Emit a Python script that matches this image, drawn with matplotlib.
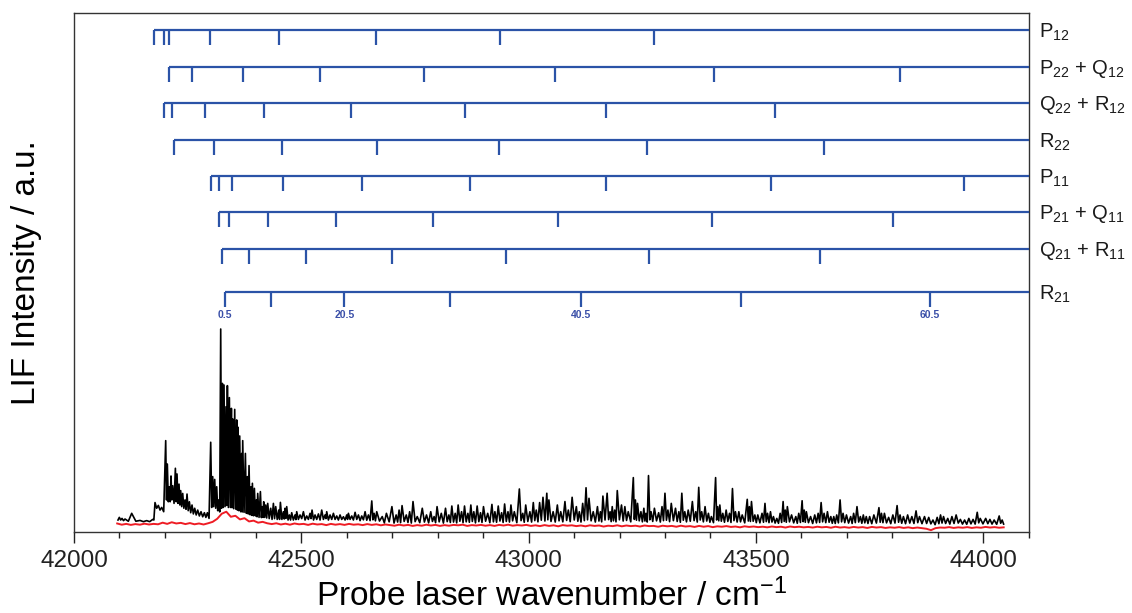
import numpy as np
import matplotlib
matplotlib.use("Agg")
import matplotlib.pyplot as plt
from matplotlib.ticker import MultipleLocator

plt.rcParams["font.family"] = ["Liberation Sans", "DejaVu Sans"]
plt.rcParams["mathtext.fontset"] = "custom"
plt.rcParams["mathtext.rm"] = "Liberation Sans"
plt.rcParams["mathtext.it"] = "Liberation Sans:italic"
plt.rcParams["mathtext.bf"] = "Liberation Sans:bold"

# ---------------------------------------------------------------- data
X_MIN, X_MAX = 42000, 44100
Y_MAX = 255.7

# LIF spectrum (black): line positions / cm-1, peak intensities and the
# floor level reached after each line (first entry is the level before the
# first line).
line_cm = [
    42099.7, 42105.6, 42112.2, 42126.9, 42145.2, 42159.9, 42173.1, 42178.2, 42185.5, 42192.9,
    42201.7, 42205.3, 42209.7, 42213.4, 42217.1, 42223.0, 42226.6, 42231.0, 42234.7, 42239.1,
    42244.2, 42248.6, 42253.8, 42259.6, 42265.5, 42272.1, 42279.4, 42286.8, 42293.4, 42300.7,
    42305.1, 42309.5, 42313.9, 42318.3, 42322.7, 42326.4, 42330.0, 42334.4, 42337.4, 42341.8,
    42346.2, 42349.1, 42353.5, 42357.9, 42360.8, 42364.5, 42368.9, 42371.1, 42377.0, 42381.4,
    42385.0, 42389.4, 42392.4, 42396.8, 42401.2, 42404.1, 42410.0, 42414.4, 42417.3, 42421.7,
    42426.1, 42432.7, 42438.6, 42443.7, 42450.3, 42454.0, 42460.6, 42464.2, 42467.9, 42473.8,
    42478.9, 42486.2, 42489.9, 42497.2, 42504.6, 42511.9, 42519.2, 42523.6, 42530.2, 42537.6,
    42544.9, 42552.3, 42555.9, 42563.2, 42570.6, 42577.9, 42585.2, 42592.6, 42599.9, 42603.6,
    42610.9, 42618.3, 42625.6, 42632.9, 42640.3, 42647.6, 42655.0, 42660.1, 42665.9,
    42678.0, 42687.2, 42699.3, 42708.6, 42715.1, 42721.6, 42730.9, 42738.3, 42745.7, 42755.0,
    42766.1, 42775.4, 42784.7, 42792.1, 42798.6, 42807.9, 42817.2, 42824.6, 42831.1, 42838.5,
    42845.0, 42852.5, 42859.0, 42866.4, 42872.9, 42879.4, 42886.8, 42894.2, 42900.7, 42910.0,
    42919.3, 42925.8, 42933.2, 42940.6, 42947.2, 42954.6, 42961.1, 42968.5, 42979.6, 42987.1,
    42993.6, 43002.8, 43010.3, 43016.8, 43024.2, 43031.6, 43040.0, 43044.6, 43053.9, 43063.2,
    43070.6, 43079.9, 43087.3, 43095.7, 43105.0, 43111.5, 43118.9, 43126.3, 43132.8, 43142.1,
    43151.4, 43157.9, 43163.4, 43172.7, 43179.2, 43183.9, 43189.4, 43195.0, 43204.3, 43211.7,
    43219.1, 43230.3, 43234.9, 43239.6, 43247.0, 43253.5, 43258.1, 43263.7, 43269.3, 43276.7,
    43286.0, 43293.4, 43299.9, 43306.4, 43313.8, 43323.1, 43330.5, 43337.0, 43343.5, 43351.0,
    43360.2, 43367.7, 43374.2, 43380.7, 43388.1, 43395.5, 43402.0, 43411.3, 43415.9, 43420.6,
    43427.1, 43434.5, 43441.9, 43448.4, 43454.9, 43462.4, 43469.8, 43480.9, 43485.6, 43490.2,
    43497.6, 43504.1, 43513.4, 43519.9, 43525.5, 43532.0, 43538.5, 43545.9, 43553.3, 43559.8,
    43564.5, 43569.1, 43578.4, 43587.7, 43594.2, 43601.6, 43606.2, 43610.9, 43620.2, 43629.4,
    43636.9, 43643.4, 43649.9, 43657.3, 43664.7, 43671.2, 43677.7, 43685.1, 43691.6, 43699.1,
    43708.4, 43714.9, 43722.3, 43729.7, 43736.2, 43742.7, 43750.1, 43759.4, 43770.6, 43776.1,
    43782.6, 43791.9, 43801.2, 43810.5, 43817.0, 43824.4, 43833.7, 43843.0, 43852.2, 43859.7,
    43870.8, 43880.1, 43889.4, 43898.7, 43906.1, 43912.6, 43921.9, 43931.1, 43940.4, 43949.7,
    43959.0, 43968.3, 43977.6, 43986.8, 43993.3, 44005.4, 44014.7, 44024.0, 44035.1, 44041.6,
]
line_int = [
    7.2, 6.7, 6.4, 9.2, 5.7, 5.6, 6.2, 14.5, 13.1, 12.1,
    45.0, 33.5, 22.3, 27.6, 22.8, 31.4, 28.6, 23.6, 20.4, 19.0,
    15.8, 18.7, 14.9, 13.3, 11.7, 10.8, 10.0, 9.5, 9.5, 44.2,
    27.3, 25.9, 22.3, 15.8, 100.0, 73.2, 72.4, 61.7, 72.1, 66.2,
    60.9, 55.7, 60.4, 55.2, 51.6, 47.3, 38.7, 45.0, 38.7, 27.3,
    32.7, 22.3, 24.0, 21.5, 15.8, 19.0, 19.9, 12.5, 14.9, 13.3,
    14.1, 11.7, 14.1, 12.5, 10.8, 14.6, 10.0, 11.7, 12.5, 8.4,
    9.5, 8.4, 10.0, 8.4, 10.0, 7.9, 9.2, 10.8, 8.4, 8.9,
    10.8, 8.4, 10.0, 8.4, 9.2, 7.9, 8.4, 7.5, 8.4, 9.2,
    7.9, 9.7, 8.4, 7.9, 10.0, 8.4, 15.3, 9.2, 10.0,
    7.6, 9.2, 12.5, 8.4, 10.8, 13.0, 8.4, 10.0, 15.0, 7.6,
    11.7, 8.4, 10.0, 7.6, 12.5, 9.2, 11.7, 8.4, 12.8, 9.2,
    13.3, 10.0, 12.8, 9.2, 13.3, 10.0, 12.8, 9.5, 12.5, 9.2,
    13.6, 10.0, 12.8, 9.5, 13.8, 10.0, 13.3, 10.0, 21.2, 9.2,
    13.3, 10.0, 14.5, 10.8, 14.5, 17.1, 19.1, 15.8, 10.0, 13.3,
    10.0, 15.0, 10.8, 17.1, 12.5, 10.0, 14.1, 21.8, 16.6, 10.0,
    12.5, 10.0, 17.7, 19.1, 10.0, 12.5, 10.8, 20.4, 13.3, 12.5,
    10.0, 26.8, 15.8, 14.1, 10.0, 11.7, 9.2, 27.8, 10.0, 11.7,
    9.5, 12.5, 19.1, 10.8, 14.1, 11.7, 10.0, 19.1, 10.0, 10.8,
    15.0, 10.0, 22.0, 10.0, 12.5, 9.2, 7.6, 26.8, 12.5, 13.3,
    9.2, 10.8, 9.2, 21.4, 10.0, 10.0, 8.4, 16.1, 12.5, 15.0,
    8.4, 8.4, 9.2, 14.1, 9.2, 10.0, 7.6, 6.7, 9.2, 15.0,
    10.8, 12.5, 8.4, 7.6, 9.2, 15.4, 10.8, 10.0, 7.6, 8.4,
    9.2, 14.5, 9.2, 10.0, 7.6, 7.6, 8.4, 15.8, 9.2, 8.4,
    7.6, 9.2, 12.5, 7.6, 8.4, 7.6, 7.6, 8.4, 12.0, 9.2,
    9.2, 7.2, 8.4, 13.0, 8.4, 7.6, 8.4, 7.6, 10.4, 7.6,
    7.6, 7.2, 5.9, 7.2, 8.4, 7.6, 6.7, 7.6, 8.4, 6.2,
    5.9, 6.7, 6.2, 9.7, 6.7, 6.7, 6.2, 5.9, 7.9, 5.9,
]
floor_int = [
    5.9,
    5.9, 5.6, 5.3, 5.3, 5.1, 5.1, 5.9, 11.7, 10.8, 10.0,
    15.8, 14.9, 14.9, 15.8, 14.1, 14.9, 14.1, 13.3, 12.5, 11.7,
    11.2, 10.5, 9.5, 8.9, 8.4, 7.9, 7.5, 7.2, 6.7, 12.1,
    12.5, 11.7, 10.5, 9.9, 11.7, 12.1, 12.5, 13.1, 12.1, 12.1,
    12.0, 11.5, 11.3, 10.8, 10.5, 10.0, 9.9, 9.7, 9.2, 8.9,
    8.5, 8.2, 8.0, 7.9, 7.5, 7.2, 7.1, 7.2, 7.2, 6.9,
    6.6, 6.2, 6.6, 6.2, 6.2, 6.2, 6.4, 6.7, 5.9, 5.9,
    5.9, 6.1, 6.2, 6.6, 5.9, 6.2, 6.6, 5.9, 6.2, 5.9,
    6.2, 6.6, 5.9, 6.2, 6.2, 5.9, 6.2, 5.9, 6.2, 6.2,
    5.9, 6.2, 5.6, 6.0, 5.8, 5.6, 6.0, 5.5, 5.4,
    4.5, 5.0, 4.4, 4.9, 4.6, 5.2, 4.7, 4.4, 5.1, 4.6,
    4.9, 4.5, 5.2, 4.6, 5.0, 4.4, 5.1, 4.7, 4.9, 4.5,
    5.3, 4.6, 5.0, 4.8, 5.2, 4.5, 5.1, 4.7, 5.3, 4.6,
    5.0, 4.8, 5.4, 4.7, 5.2, 4.9, 5.5, 4.6, 5.6, 4.8,
    5.2, 4.9, 5.6, 5.0, 5.8, 5.4, 6.0, 5.2, 4.9, 5.5,
    5.0, 5.7, 5.1, 5.9, 5.3, 4.9, 5.6, 6.0, 5.5, 4.9,
    5.4, 5.0, 5.9, 6.1, 5.1, 5.5, 5.0, 6.0, 5.4, 5.7,
    5.0, 6.2, 5.8, 5.5, 5.0, 5.4, 4.9, 6.0, 5.2, 5.5,
    4.9, 5.6, 5.8, 5.1, 5.6, 5.2, 4.8, 5.8, 5.0, 5.3,
    5.6, 4.9, 5.9, 5.0, 5.4, 4.8, 4.6, 5.9, 5.5, 5.3,
    4.8, 5.2, 4.7, 5.6, 4.9, 5.0, 4.5, 5.4, 5.2, 5.3,
    4.6, 4.5, 4.8, 5.1, 4.6, 4.9, 4.4, 4.3, 4.7, 5.2,
    4.8, 5.0, 4.5, 4.3, 4.7, 5.1, 4.8, 4.6, 4.2, 4.5,
    4.7, 5.0, 4.6, 4.8, 4.3, 4.2, 4.5, 5.0, 4.6, 4.4,
    4.2, 4.6, 4.9, 4.3, 4.5, 4.2, 4.1, 4.4, 4.8, 4.6,
    4.5, 4.1, 4.4, 4.8, 4.3, 4.1, 4.4, 4.2, 4.6, 4.1,
    4.2, 4.0, 3.6, 4.1, 4.4, 4.2, 3.9, 4.2, 4.4, 3.9,
    3.8, 4.0, 3.9, 4.5, 4.0, 4.1, 3.9, 3.8, 4.3, 3.9,
]

# Background trace (red), sampled every 10 cm-1 from 42095 cm-1
bg_start, bg_step = 42095, 10
bg_int = [
    4.2, 3.6, 4.0, 3.5, 3.9, 3.6, 4.1, 3.7, 4.0, 3.8,
    4.6, 4.0, 4.8, 4.2, 4.5, 3.9, 4.4, 3.8, 4.2, 3.7, 4.3,
    5.0, 6.5, 9.0, 10.0, 7.5, 8.0, 6.2, 6.8, 5.2, 5.6, 4.6, 5.0, 4.3,
    3.9, 4.3, 3.7, 4.1, 3.6, 4.2, 3.8, 4.0, 3.5, 4.1, 3.7, 3.9, 3.4, 4.0,
    3.6, 3.9, 3.5, 4.0, 3.6, 3.8, 3.4, 3.9, 3.5, 3.8, 3.3, 3.7, 3.4,
    3.1, 3.6, 3.2, 3.5, 3.0, 3.4, 3.1, 3.6, 3.2, 3.5, 3.0, 3.4, 3.1, 3.5, 3.3,
    3.6, 3.0, 3.4, 3.2, 3.5, 3.1, 3.4, 3.0, 3.5, 3.2, 3.6, 3.1, 3.4, 3.2, 3.5, 3.0,
    3.3, 2.9, 3.4, 3.0, 3.3, 2.8, 3.4, 3.1, 3.3, 2.9, 3.2, 2.8, 3.3, 3.0, 3.2,
    2.7, 3.1, 2.9, 3.3, 2.8, 3.2, 2.9, 3.1, 2.7, 3.2, 2.9, 3.0, 2.6, 3.1, 2.8,
    3.0, 2.6, 3.1, 2.7, 2.9, 2.5, 3.0, 2.6, 2.9, 2.4, 2.8, 2.6, 2.9, 2.5, 2.7,
    2.3, 2.8, 2.5, 2.7, 2.4, 2.6, 2.3, 2.7, 2.4, 2.6, 2.2, 2.7, 2.4, 2.6, 2.3,
    2.5, 2.2, 2.6, 2.3, 2.5, 2.1, 2.6, 2.2, 2.4, 2.1, 2.5, 2.2, 2.4, 2.0, 2.5,
    2.2, 2.4, 2.0, 2.3, 2.1, 2.4, 2.0, 2.3, 1.9, 2.2, 1.9, 1.6, 0.9, 1.9, 2.2,
    2.1, 2.4, 2.0, 2.3, 2.1, 2.4, 2.0, 2.3, 2.1, 2.5, 2.2, 2.4, 2.1, 2.3,
]

# Rotational line assignments / cm-1 (tick positions for each branch)
branch_labels = [
    r"$\mathrm{P}_{12}$",
    r"$\mathrm{P}_{22}$ + $\mathrm{Q}_{12}$",
    r"$\mathrm{Q}_{22}$ + $\mathrm{R}_{12}$",
    r"$\mathrm{R}_{22}$",
    r"$\mathrm{P}_{11}$",
    r"$\mathrm{P}_{21}$ + $\mathrm{Q}_{11}$",
    r"$\mathrm{Q}_{21}$ + $\mathrm{R}_{11}$",
    r"$\mathrm{R}_{21}$",
]
branch_lines = [
    [42175, 42197, 42209, 42299, 42450, 42664, 42937, 43276],
    [42209, 42260, 42372, 42541, 42769, 43058, 43408, 43817],
    [42199, 42216, 42288, 42417, 42610, 42860, 43170, 43542],
    [42221, 42309, 42458, 42666, 42934, 43260, 43649],
    [42302, 42318, 42348, 42459, 42634, 42871, 43170, 43534, 43958],
    [42320, 42341, 42426, 42577, 42790, 43064, 43404, 43801],
    [42326, 42384, 42511, 42700, 42950, 43265, 43642],
    [42332, 42433, 42595, 42827, 43116, 43468, 43882],
]
r21_J = [0.5, 10.5, 20.5, 30.5, 40.5, 50.5, 60.5]
J_labelled = [0.5, 20.5, 40.5, 60.5]

# ---------------------------------------------------------------- build traces
pk = np.asarray(line_cm)
mid = (pk[:-1] + pk[1:]) / 2
valley_x = np.concatenate([[pk[0] - (pk[1] - pk[0]) / 2], mid,
                           [pk[-1] + (pk[-1] - pk[-2]) / 2]])
trace_x = np.empty(len(pk) + len(valley_x))
trace_y = np.empty_like(trace_x)
trace_x[0::2] = valley_x
trace_y[0::2] = floor_int
trace_x[1::2] = pk
trace_y[1::2] = line_int

bg_x = bg_start + bg_step * np.arange(len(bg_int))

# ---------------------------------------------------------------- figure
fig = plt.figure(figsize=(11.32, 6.13), dpi=100)
ax = fig.add_axes([74 / 1132, 81 / 613, 954.7 / 1132, 519 / 613])

ax.plot(trace_x, trace_y, color="black", lw=1.2, zorder=3)
ax.plot(bg_x, bg_int, color="#ee1c24", lw=1.4, zorder=2)

blue = "#2b53a7"
row_y = [0.967, 0.8954, 0.826, 0.7553, 0.686, 0.616, 0.5453, 0.4618]
tick_len = 0.0289
trans = ax.get_xaxis_transform()
for label, pos, y in zip(branch_labels, branch_lines, row_y):
    ax.plot([pos[0], X_MAX], [y, y], color=blue, lw=1.6, transform=trans,
            solid_capstyle="butt", clip_on=False, zorder=4)
    ax.vlines(pos, y - tick_len, y, color=blue, lw=1.6, transform=trans, zorder=4)
    ax.text(1.0105, y - 0.004, label, transform=ax.transAxes, ha="left",
            va="center", fontsize=14.5, color="#1a1a1a")

for J, x in zip(r21_J, branch_lines[-1]):
    if J in J_labelled:
        ax.text(x, 0.418, f"{J:g}", transform=trans, ha="center", va="center",
                fontsize=7.5, fontweight="bold", color="#3a4fa8")

ax.set_xlim(X_MIN, X_MAX)
ax.set_ylim(0, Y_MAX)
ax.set_yticks([])
ax.xaxis.set_major_locator(MultipleLocator(500))
ax.xaxis.set_minor_locator(MultipleLocator(100))
ax.tick_params(axis="x", which="major", length=8, width=1, pad=5,
               labelsize=17.5, colors="#222222")
ax.tick_params(axis="x", which="minor", length=4.5, width=1, colors="#222222")
for s in ax.spines.values():
    s.set_color("#333333")
    s.set_linewidth(1.0)

ax.set_xlabel("Probe laser wavenumber / cm$^{-1}$", fontsize=24, labelpad=5)
ax.set_ylabel("LIF Intensity / a.u.", fontsize=24)
ax.yaxis.set_label_coords(-0.034, 0.5)

fig.savefig("out.png", dpi=100)
